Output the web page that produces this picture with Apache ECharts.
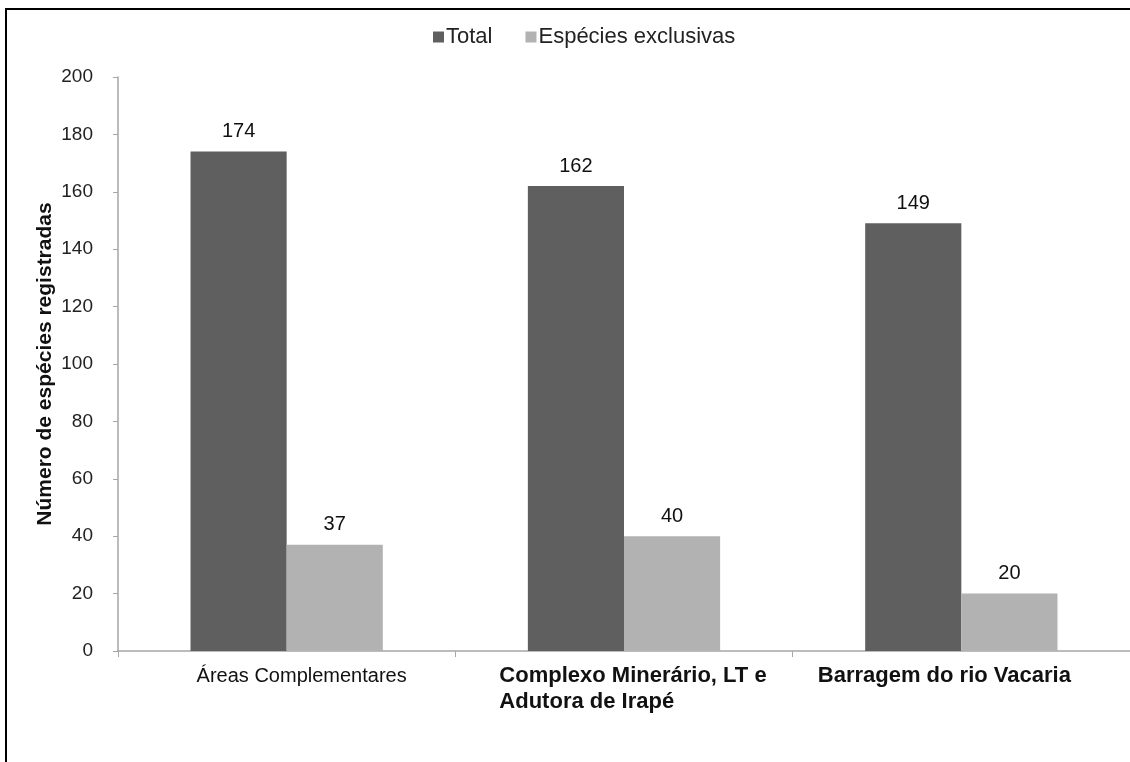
<!DOCTYPE html>
<html><head><meta charset="utf-8">
<script src="https://cdn.jsdelivr.net/npm/echarts@6/dist/echarts.min.js"></script>
<style>html,body{margin:0;padding:0;background:#fff}#c{width:1130px;height:762px}</style>
</head><body><div id="c"></div>
<script>
const categories = ['Áreas Complementares', 'Complexo Minerário, LT e\nAdutora de Irapé', 'Barragem do rio Vacaria'];
const totalValues = [174, 162, 149];
const exclusiveValues = [37, 40, 20];
const seriesNames = ['Total', 'Espécies exclusivas'];
const yAxisTitle = 'Número de espécies registradas';

const chart = echarts.init(document.getElementById('c'));
const richKeys = ['a', 'b', 'c'];
chart.setOption({
  animation: false,
  textStyle: { fontFamily: 'Liberation Sans, Arial, sans-serif' },
  graphic: [{ type: 'rect', shape: { x: 6, y: 9, width: 1140, height: 770 }, style: { fill: 'none', stroke: '#000', lineWidth: 2 } }],
  legend: {
    top: 21, left: 428, itemWidth: 11, itemHeight: 11, itemGap: 33,
    icon: 'rect',
    textStyle: { fontSize: 22, color: '#222', padding: [0, 0, 0, -3] },
    data: seriesNames
  },
  grid: { left: 118, right: -2, top: 77, bottom: 111 },
  xAxis: {
    type: 'category',
    data: categories,
    axisLine: { lineStyle: { color: '#a6a6a6', width: 1.5 } },
    axisTick: { show: true, length: 6, lineStyle: { color: '#a6a6a6' } },
    axisLabel: {
      color: '#111', margin: 12, interval: 0,
      formatter: (v, i) => '{' + richKeys[i] + '|' + v + '}',
      rich: {
        a: { fontSize: 20, fontWeight: 'normal', color: '#111', lineHeight: 26, padding: [0, 0, 0, 30] },
        b: { fontSize: 22, fontWeight: 'bold', color: '#111', lineHeight: 26, align: 'left', padding: [0, 0, 0, 18] },
        c: { fontSize: 22, fontWeight: 'bold', color: '#111', lineHeight: 26, padding: [0, 34, 0, 0] }
      }
    }
  },
  yAxis: {
    type: 'value', min: 0, max: 200, interval: 20,
    name: yAxisTitle, nameLocation: 'middle', nameGap: 62, nameMoveOverlap: false,
    nameTextStyle: { fontSize: 21, fontWeight: 'bold', color: '#111' },
    axisLine: { show: true, lineStyle: { color: '#a6a6a6', width: 1.5 } },
    axisTick: { show: true, length: 5, lineStyle: { color: '#a6a6a6' } },
    axisLabel: { fontSize: 19, color: '#222', margin: 25 },
    splitLine: { show: false }
  },
  series: [
    { name: seriesNames[0], type: 'bar', data: totalValues, barGap: '0%', barCategoryGap: '43%',
      itemStyle: { color: '#5f5f5f' },
      label: { show: true, position: 'top', fontSize: 20, color: '#111', distance: 10 } },
    { name: seriesNames[1], type: 'bar', data: exclusiveValues,
      itemStyle: { color: '#b2b2b2' },
      label: { show: true, position: 'top', fontSize: 20, color: '#111', distance: 10 } }
  ]
});
</script></body></html>
